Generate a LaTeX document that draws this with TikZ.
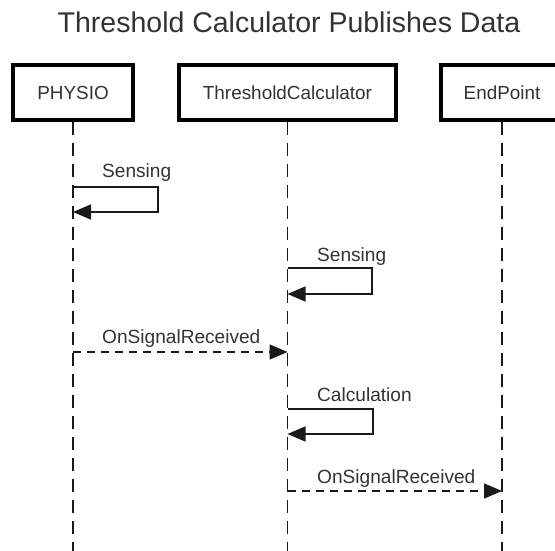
\documentclass[tikz,border=0pt]{standalone}
\usepackage{fontspec}
\setmainfont{Liberation Sans}
\usetikzlibrary{arrows.meta}
\definecolor{ink}{HTML}{333333}
\definecolor{wire}{HTML}{1A1A1A}
\begin{document}
\begin{tikzpicture}[x=1pt,y=-1pt,
  actor/.style={draw=black, line width=3.2pt, minimum height=55pt, inner sep=0pt,
    font=\fontsize{18.9}{22}\selectfont, text=ink},
  lifeline/.style={draw=wire, line width=1.8pt, dash pattern=on 13pt off 8pt},
  selfmsg/.style={draw=wire, line width=1.5pt, -{Triangle[length=18pt,width=15pt]}},
  asyncmsg/.style={draw=wire, line width=1.5pt, dash pattern=on 8pt off 6pt,
    -{Triangle[length=18pt,width=15pt]}},
  msglabel/.style={anchor=base west, inner sep=0pt, font=\fontsize{19.1}{22}\selectfont, text=ink},
  title/.style={anchor=base, inner sep=0pt, font=\fontsize{28.5}{32}\selectfont, text=ink}]
  \clip (0,0) rectangle (555,550);
  \fill[white] (0,0) rectangle (555,550);

  % title
  \node[title] (heading) at (289,32) {Threshold Calculator Publishes Data};

  % participants
  \node[actor, minimum width=120pt] (physio) at (73,92.5) {PHYSIO};
  \node[actor, minimum width=217pt] (calc) at (287.5,92.5) {ThresholdCalculator};
  \node[actor, minimum width=122pt] (endpt) at (502,92.5) {EndPoint};

  % lifelines
  \coordinate (bottom) at (0,556);
  \draw[lifeline] (physio.south) -- (physio.south |- bottom);
  \draw[lifeline] (calc.south) -- (calc.south |- bottom);
  \draw[lifeline] (endpt.south) -- (endpt.south |- bottom);

  % PHYSIO: Sensing (self call)
  \coordinate (t1) at (158,187);
  \coordinate (r1) at (0,212);
  \draw[selfmsg] (physio.south |- t1) -- (t1) |- (physio.south |- r1);
  \node[msglabel] (l1) at (102,177) {Sensing};

  % ThresholdCalculator: Sensing (self call)
  \coordinate (t2) at (372,268);
  \coordinate (r2) at (0,294);
  \draw[selfmsg] (calc.south |- t2) -- (t2) |- (calc.south |- r2);
  \node[msglabel] (l2) at (317,261) {Sensing};

  % PHYSIO -> ThresholdCalculator
  \coordinate (r3) at (0,352);
  \draw[asyncmsg] (physio.south |- r3) -- (calc.south |- r3);
  \node[msglabel] (l3) at (102,343) {OnSignalReceived};

  % ThresholdCalculator: Calculation (self call)
  \coordinate (t4) at (373,409);
  \coordinate (r4) at (0,434);
  \draw[selfmsg] (calc.south |- t4) -- (t4) |- (calc.south |- r4);
  \node[msglabel] (l4) at (317,401) {Calculation};

  % ThresholdCalculator -> EndPoint
  \coordinate (r5) at (0,491);
  \draw[asyncmsg] (calc.south |- r5) -- (endpt.south |- r5);
  \node[msglabel] (l5) at (317,483) {OnSignalReceived};
\end{tikzpicture}
\end{document}
